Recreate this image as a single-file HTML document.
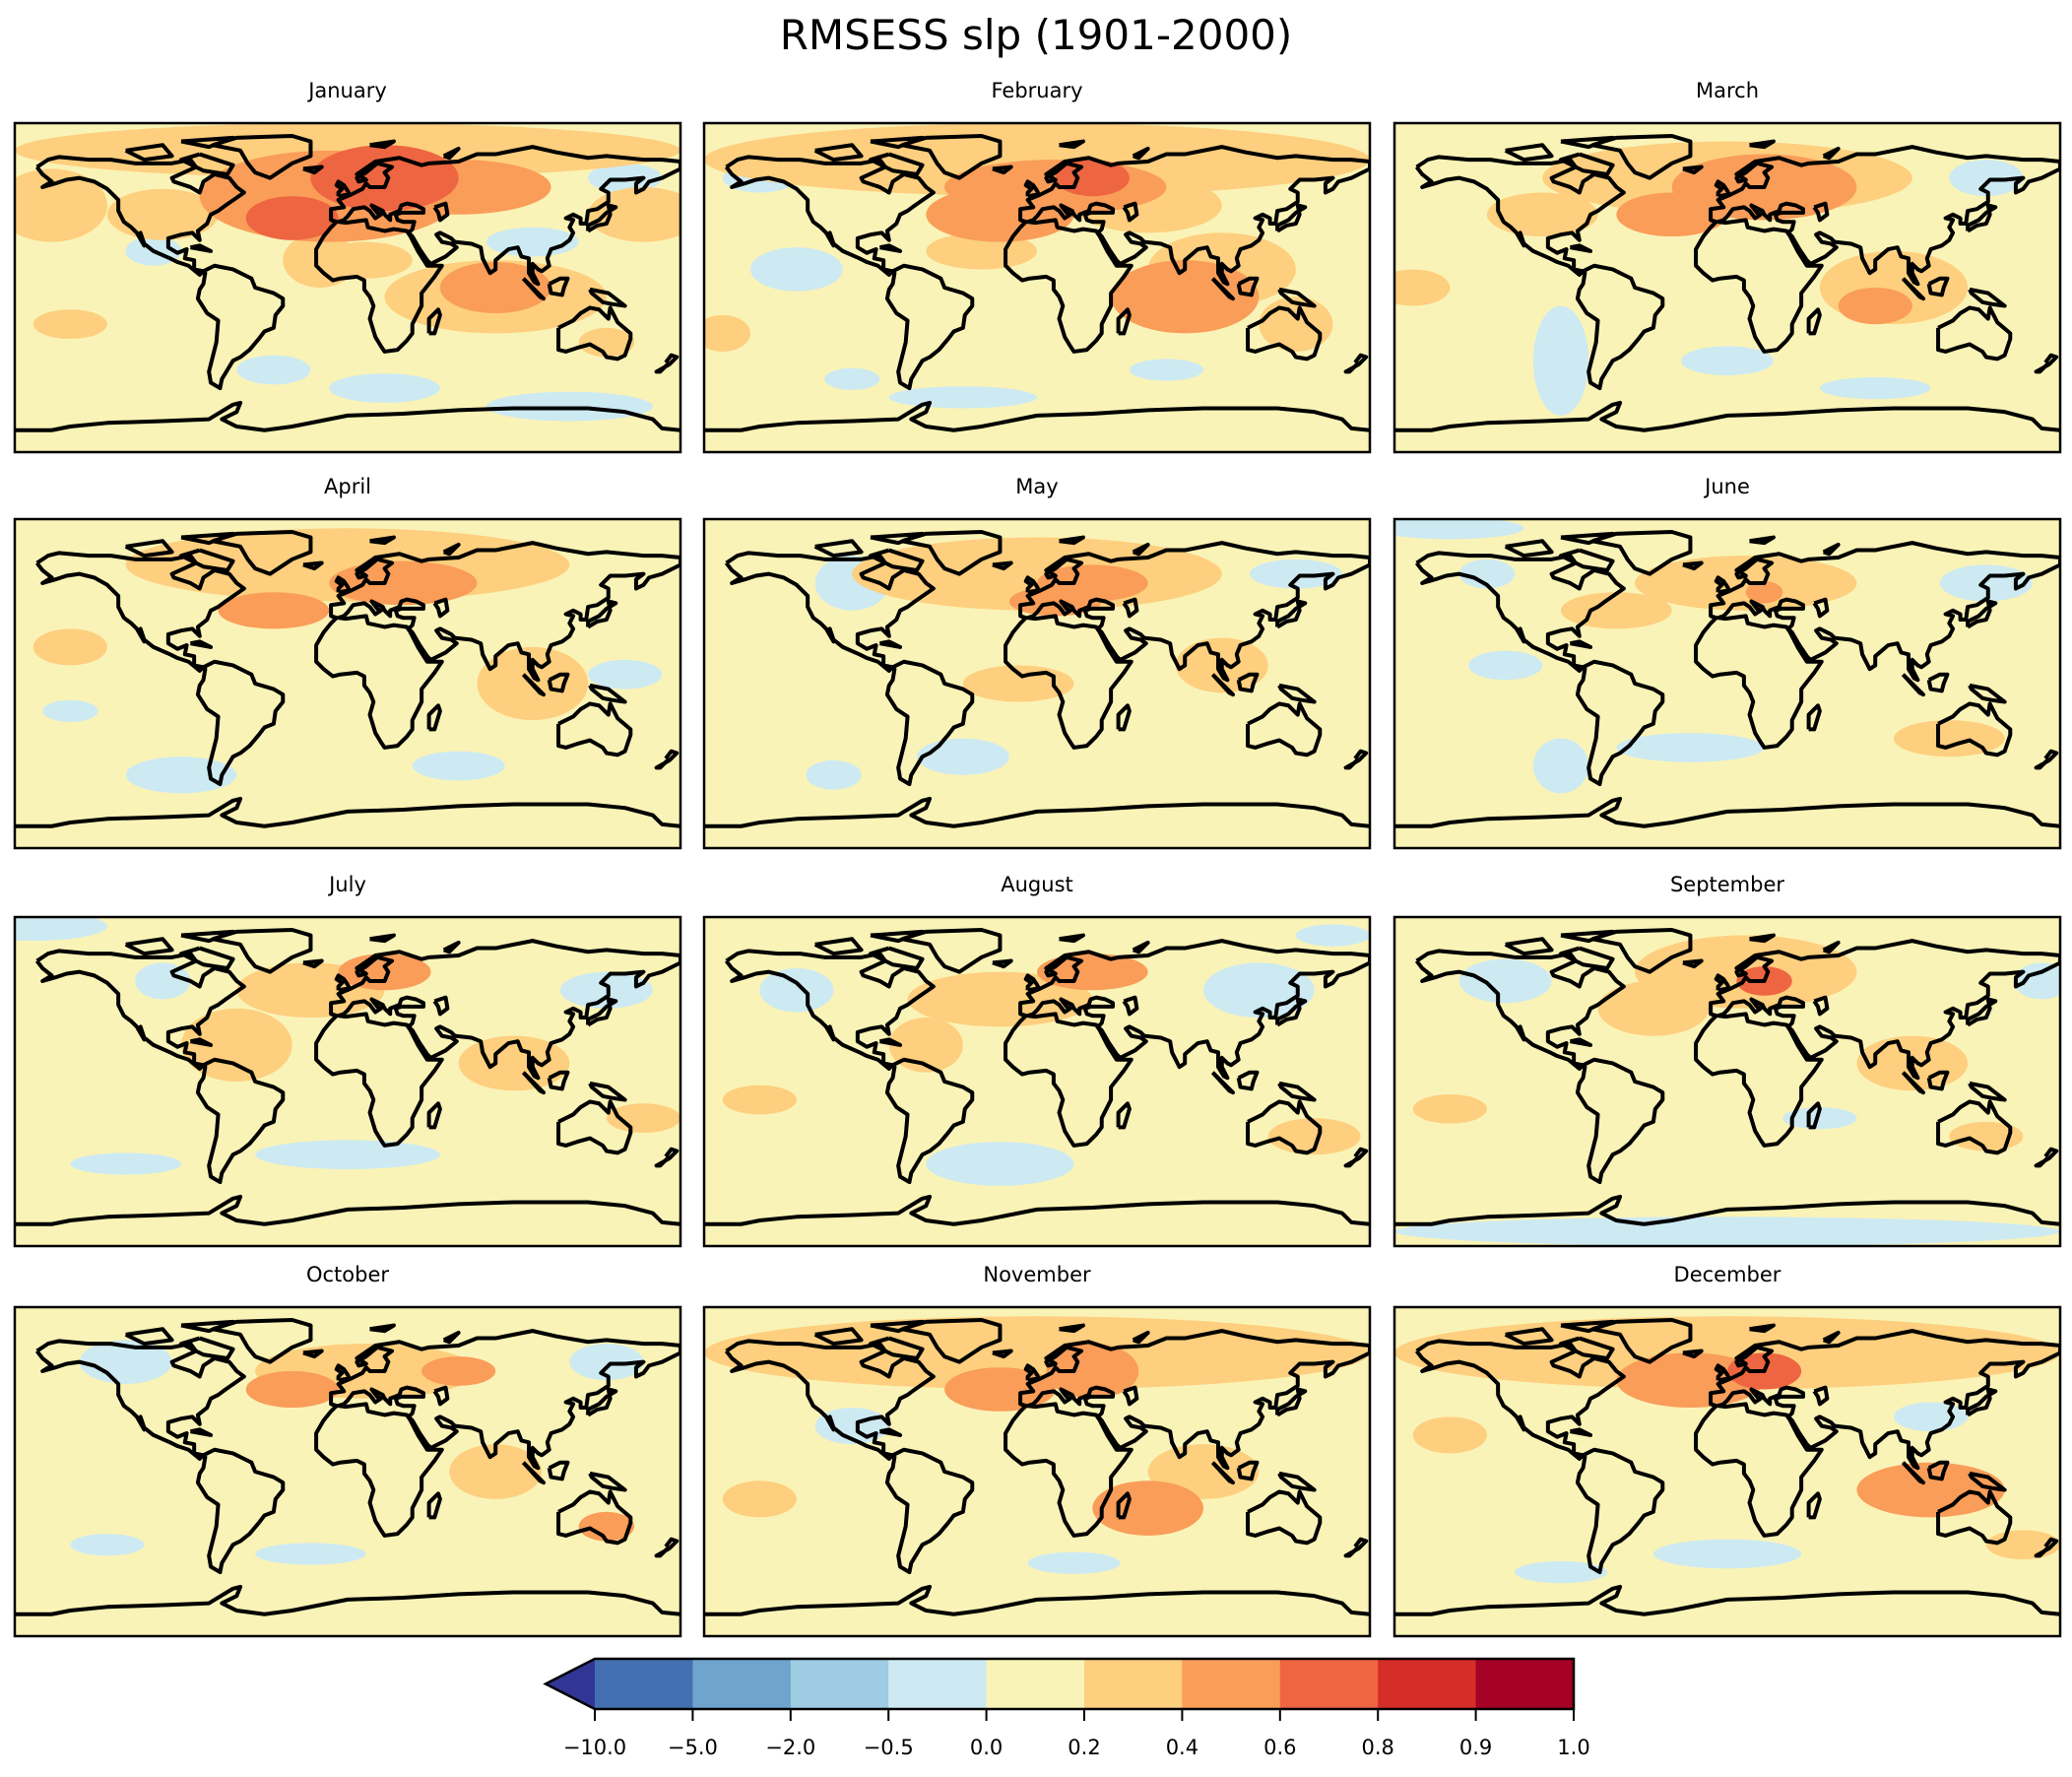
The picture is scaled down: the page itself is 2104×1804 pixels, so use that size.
<!DOCTYPE html>
<html><head><meta charset="utf-8">
<style>
html,body{margin:0;padding:0;background:#fff;}
svg{display:block;font-family:"DejaVu Sans","Liberation Sans",sans-serif;}
</style></head>
<body>
<svg id="fig" width="2104" height="1804" viewBox="0 0 2104 1804" xmlns="http://www.w3.org/2000/svg">
<rect width="2104" height="1804" fill="#fff"/>
<text x="1052" y="50" font-size="42" text-anchor="middle">RMSESS slp (1901-2000)</text>
<g id="panels"></g>
<g id="cbar"></g>
</svg>
<script>
const months = ["January","February","March","April","May","June","July","August","September","October","November","December"];
// blobs: [lon, lat, lonRadius, latRadius, value]
const blobsJan = [[-10,50,70,25,0.5],[20,60,40,18,0.7],[-30,38,25,12,0.7],[60,55,50,15,0.5],[-160,45,30,20,0.3],[160,40,30,15,0.3],[0,75,180,15,0.3],[-100,40,30,14,0.3],[80,0,30,14,0.5],[80,-5,60,20,0.3],[-15,15,20,15,0.3],[10,15,25,10,0.3],[-150,-20,20,8,0.3],[140,-30,15,8,0.3],[-105,20,15,8,-0.2],[-40,-45,20,8,-0.2],[20,-55,30,8,-0.2],[120,-65,45,8,-0.2],[100,25,25,8,-0.2],[150,60,20,8,-0.2]];
const blobsFeb = [[0,70,180,20,0.3],[10,55,60,15,0.5],[30,60,20,10,0.7],[-20,40,40,15,0.5],[60,45,40,15,0.3],[80,-5,40,20,0.5],[100,10,40,20,0.3],[-30,20,30,10,0.3],[140,-20,20,15,0.3],[-170,-25,15,10,0.3],[-130,10,25,12,-0.2],[-150,60,20,8,-0.2],[-40,-60,40,6,-0.2],[70,-45,20,6,-0.2],[-100,-50,15,6,-0.2]];
const blobsMar = [[0,60,100,20,0.3],[20,55,50,18,0.5],[-30,40,30,12,0.5],[-100,40,30,12,0.3],[90,0,40,20,0.3],[80,-10,20,10,0.5],[-170,0,20,10,0.3],[-90,-40,15,30,-0.2],[0,-40,25,8,-0.2],[80,-55,30,6,-0.2],[140,60,20,10,-0.2]];
const blobsApr = [[0,65,120,20,0.3],[30,55,40,12,0.5],[-40,40,30,10,0.5],[100,0,30,20,0.3],[-150,20,20,10,0.3],[-90,-50,30,10,-0.2],[60,-45,25,8,-0.2],[-150,-15,15,6,-0.2],[150,5,20,8,-0.2]];
const blobsMay = [[0,60,100,20,0.3],[10,45,25,8,0.5],[30,55,30,10,0.5],[100,10,25,15,0.3],[-10,0,30,10,0.3],[-100,55,20,15,-0.2],[-40,-40,25,10,-0.2],[-110,-50,15,8,-0.2],[140,60,25,8,-0.2]];
const blobsJun = [[10,55,60,15,0.3],[20,50,10,6,0.5],[120,-30,30,10,0.3],[-60,40,30,10,0.3],[-150,85,40,6,-0.2],[140,55,25,10,-0.2],[-20,-35,40,8,-0.2],[-120,10,20,8,-0.2],[-90,-45,15,15,-0.2],[-130,60,15,8,-0.2]];
const blobsJul = [[-20,50,40,15,0.3],[20,60,25,10,0.5],[90,10,30,15,0.3],[-60,20,30,20,0.3],[160,-20,20,8,0.3],[0,-40,50,8,-0.2],[-120,-45,30,6,-0.2],[-170,85,40,8,-0.2],[140,50,25,10,-0.2],[-100,55,15,10,-0.2]];
const blobsAug = [[-20,45,50,15,0.3],[30,60,30,10,0.5],[-60,20,20,15,0.3],[150,-30,25,10,0.3],[-150,-10,20,8,0.3],[-20,-45,40,12,-0.2],[120,50,30,15,-0.2],[-130,50,20,12,-0.2],[160,80,20,6,-0.2]];
const blobsSep = [[10,60,60,20,0.3],[20,55,15,8,0.6],[-40,40,30,15,0.3],[100,10,30,15,0.3],[-150,-15,20,8,0.3],[140,-30,20,8,0.3],[0,-82,180,8,-0.2],[-120,55,25,12,-0.2],[170,55,15,10,-0.2],[50,-20,20,6,-0.2]];
const blobsOct = [[10,55,60,15,0.3],[-30,45,25,10,0.5],[60,55,20,8,0.5],[80,0,25,15,0.3],[140,-30,15,8,0.5],[-120,60,25,12,-0.2],[-20,-45,30,6,-0.2],[-130,-40,20,6,-0.2],[140,60,20,10,-0.2]];
const blobsNov = [[0,65,180,20,0.3],[30,55,25,15,0.5],[-20,45,30,12,0.5],[60,-20,30,15,0.5],[90,0,30,15,0.3],[-150,-15,20,10,0.3],[-100,25,20,10,-0.2],[20,-50,25,6,-0.2]];
const blobsDec = [[0,65,180,20,0.3],[-20,50,40,15,0.5],[20,55,20,10,0.7],[110,-10,40,15,0.5],[-150,20,20,10,0.3],[160,-40,20,8,0.3],[0,-45,40,8,-0.2],[-90,-55,25,6,-0.2],[110,30,20,8,-0.2]];
const allBlobs = [blobsJan,blobsFeb,blobsMar,blobsApr,blobsMay,blobsJun,blobsJul,blobsAug,blobsSep,blobsOct,blobsNov,blobsDec];
const boundaries = [-10,-5,-2,-0.5,0,0.2,0.4,0.6,0.8,0.9,1.0];
const tickLabels = ["\u221210.0","\u22125.0","\u22122.0","\u22120.5","0.0","0.2","0.4","0.6","0.8","0.9","1.0"];
const colors = ["#4470b2","#6ea4cd","#9dcce3","#cdeaf2","#faf3b7","#fdcf7e","#f99d59","#ee6541","#d52d28","#a50026"];
const underColor = "#313695";

const coasts = [
 [[-168,66],[-162,70],[-156,71.5],[-140,70],[-128,70],[-115,68],[-95,68],[-85,70],[-82,66],[-95,60],[-94,58],[-85,55],[-80,52],[-78,58],[-72,62],[-64,60],[-60,55],[-56,52],[-66,45],[-70,42],[-74,40],[-76,35],[-81,31],[-80,26],[-82,28],[-84,30],[-90,29],[-97,27],[-97,22],[-92,19],[-87,21],[-88,16],[-83,15],[-83,10],[-78,9],[-80,7],[-86,12],[-92,14],[-96,16],[-105,20],[-110,24],[-112,30],[-110,23],[-114,30],[-117,33],[-121,36],[-124,42],[-124,48],[-130,54],[-137,58],[-145,60],[-152,59],[-158,57],[-165,55],[-160,58],[-165,62],[-168,66]],
 [[-78,9],[-72,12],[-62,10],[-52,5],[-50,0],[-40,-3],[-35,-6],[-35,-10],[-39,-15],[-40,-22],[-45,-24],[-48,-28],[-53,-34],[-58,-38],[-62,-40],[-65,-45],[-68,-50],[-69,-55],[-74,-52],[-75,-46],[-73,-38],[-71,-30],[-70,-18],[-76,-14],[-81,-6],[-80,-1],[-78,2],[-77,8],[-78,9]],
 [[-17,15],[-17,21],[-13,28],[-9,33],[-6,36],[-9,37],[-9,43],[-2,44],[-5,48],[2,51],[8,54],[10,57],[12,55],[20,55],[22,60],[20,63],[24,66],[16,68],[10,63],[5,60],[6,58],[10,59],[5,62],[15,69],[28,71],[40,67],[44,68],[60,69],[70,73],[80,73],[100,77],[113,74],[130,71],[140,72],[160,70],[170,70],[180,69],[180,65],[178,64],[170,60],[163,58],[160,54],[156,52],[156,57],[160,60],[150,59],[142,59],[137,54],[141,52],[141,47],[135,43],[130,42],[129,35],[126,35],[126,38],[122,40],[118,38],[122,37],[120,33],[122,30],[120,26],[116,23],[110,21],[108,16],[109,12],[105,9],[103,10],[100,13],[100,8],[103,2],[101,3],[98,8],[98,16],[94,17],[92,22],[87,21],[80,15],[80,10],[77,8],[73,16],[72,22],[67,24],[58,25],[56,27],[50,30],[48,29],[51,25],[56,24],[59,22],[53,17],[45,13],[43,15],[39,21],[35,28],[33,30],[35,32],[36,36],[30,36],[27,37],[26,40],[29,41],[41,41],[41,43],[37,45],[32,46],[29,45],[28,42],[23,40],[23,37],[20,40],[19,42],[13,45],[16,41],[18,40],[15,38],[12,42],[9,44],[3,43],[0,39],[-2,37],[-5,36],[-1,35.5],[10,37],[11,33],[20,31],[25,32],[32,31],[34,28],[38,20],[43,12],[51,12],[47,6],[40,-3],[40,-10],[35,-20],[35,-25],[32,-29],[27,-34],[20,-35],[18,-32],[15,-27],[12,-17],[14,-10],[12,-5],[9,-1],[9,4],[5,6],[-4,5],[-8,4],[-13,8],[-17,12],[-17,15]],
 [[114,-22],[114,-34],[118,-35],[124,-33],[131,-31],[138,-35],[140,-38],[146,-39],[150,-37],[153,-28],[153,-25],[146,-19],[142,-11],[141,-17],[136,-12],[131,-11],[126,-14],[122,-18],[114,-22]],
 [[-73,78],[-60,82],[-30,83],[-20,80],[-20,72],[-30,68],[-42,60],[-50,63],[-54,68],[-58,75],[-73,78]],
 [[-5,50],[1,51],[0,53],[-2,56],[-5,58],[-6,56],[-3,54],[-5,52],[-5,50]],
 [[130,31],[135,34],[140,35],[142,40],[141,45],[145,44],[140,41],[136,37],[130,34],[130,31]],
 [[44,-25],[47,-25],[50,-15],[49,-12],[44,-17],[44,-25]],
 [[172,-41],[175,-37],[178,-38],[174,-42],[167,-46],[169,-46],[174,-41]],
 [[109,2],[115,5],[119,5],[117,0],[116,-4],[110,-3],[109,2]],
 [[95,5],[104,-5],[106,-6],[98,2],[95,5]],
 [[131,-1],[141,-3],[150,-10],[143,-9],[138,-8],[132,-3],[131,-1]],
 [[-80,73],[-62,67],[-65,62],[-78,64],[-90,70],[-80,73]],
 [[-90,80],[-62,82],[-75,77],[-90,80]],
 [[-120,75],[-100,78],[-95,72],[-110,70],[-120,75]],
 [[-24,65],[-14,66],[-18,63],[-24,65]],
 [[-85,22],[-74,20],[-80,23],[-85,22]],
 [[47,44],[53,46],[54,40],[50,37],[49,41],[47,44]],
 [[12,78],[25,80],[20,77],[12,78]],
 [[52,72],[60,76],[55,71],[52,72]]
];
const antarctica = [[-180,-78],[-160,-78],[-150,-76],[-130,-74],[-100,-73],[-75,-72],[-62,-64],[-58,-63],[-60,-68],[-68,-72],[-60,-76],[-45,-78],[-30,-76],[0,-70],[30,-69],[60,-67],[90,-66],[110,-66],[130,-66],[150,-68],[165,-72],[170,-77],[180,-78]];

const NS="http://www.w3.org/2000/svg";
const colX=[15,715,1416], rowY=[125,527,931,1327], PW=676, PH=334;
function colorFor(v){ if(v<boundaries[0]) return underColor; for(let i=0;i<colors.length;i++){ if(v<boundaries[i+1]) return colors[i]; } return colors[colors.length-1]; }
function el(tag,attrs,parent){const e=document.createElementNS(NS,tag);for(const k in attrs)e.setAttribute(k,attrs[k]);parent.appendChild(e);return e;}
const panels=document.getElementById('panels');
months.forEach((m,i)=>{
  const x0=colX[i%3], y0=rowY[Math.floor(i/3)];
  const xs=lon=>x0+(lon+180)/360*PW, ys=lat=>y0+(90-lat)/180*PH;
  const g=el('g',{},panels);
  
  
  const t=el('text',{x:x0+PW/2,y:y0-26,'font-size':21,'text-anchor':'middle'},g);
  
  
  t.textContent=m;
  const cid='clip'+i;
  const cp=el('clipPath',{id:cid},g); el('rect',{x:x0,y:y0,width:PW,height:PH},cp);
  const inner=el('g',{'clip-path':'url(#'+cid+')'},g);
  const bg=el('rect',{x:x0,y:y0,width:PW,height:PH,fill:colors[4]},inner);
  
  
  const bl=allBlobs[i].slice().sort((a,b)=>Math.abs(a[4])-Math.abs(b[4]));
  bl.forEach(b=>{
    const e=el('ellipse',{cx:xs(b[0]),cy:ys(b[1]),rx:b[2]/360*PW,ry:b[3]/180*PH,fill:colorFor(b[4])},inner);
    
    
  });
  const cg=el('g',{fill:'none',stroke:'#000','stroke-width':4,'stroke-linejoin':'round'},inner);
  
  
  coasts.forEach(c=>{el('polyline',{points:c.map(p=>xs(p[0])+','+ys(p[1])).join(' ')},cg);});
  el('polyline',{points:antarctica.map(p=>xs(p[0])+','+ys(p[1])).join(' ')},cg);
  const fr=el('rect',{x:x0,y:y0,width:PW,height:PH,fill:'none',stroke:'#000','stroke-width':2.5},g);
  
  
});
// colorbar
const cb=document.getElementById('cbar');
const cbL=604,cbR=1598,cbT=1684,cbB=1735,tip=554;
const n=colors.length, seg=(cbR-cbL)/n;
const cbx=i=>cbL+i*seg;
const tri=el('polygon',{points:`${cbL},${cbT} ${tip},${(cbT+cbB)/2} ${cbL},${cbB}`,fill:underColor},cb);


colors.forEach((c,i)=>{
  const r=el('rect',{x:cbx(i),y:cbT,width:seg+0.5,height:cbB-cbT,fill:c},cb);
  
  
});
el('polygon',{points:`${tip},${(cbT+cbB)/2} ${cbL},${cbT} ${cbR},${cbT} ${cbR},${cbB} ${cbL},${cbB}`,fill:'none',stroke:'#000','stroke-width':2.5},cb);
tickLabels.forEach((lab,i)=>{
  const x=cbx(i);
  el('line',{x1:x,y1:cbB,x2:x,y2:cbB+12,stroke:'#000','stroke-width':2},cb);
  const t=el('text',{x:x,y:cbB+46,'font-size':21,'text-anchor':'middle'},cb);
  
  
  t.textContent=lab;
});
</script>
</body></html>
